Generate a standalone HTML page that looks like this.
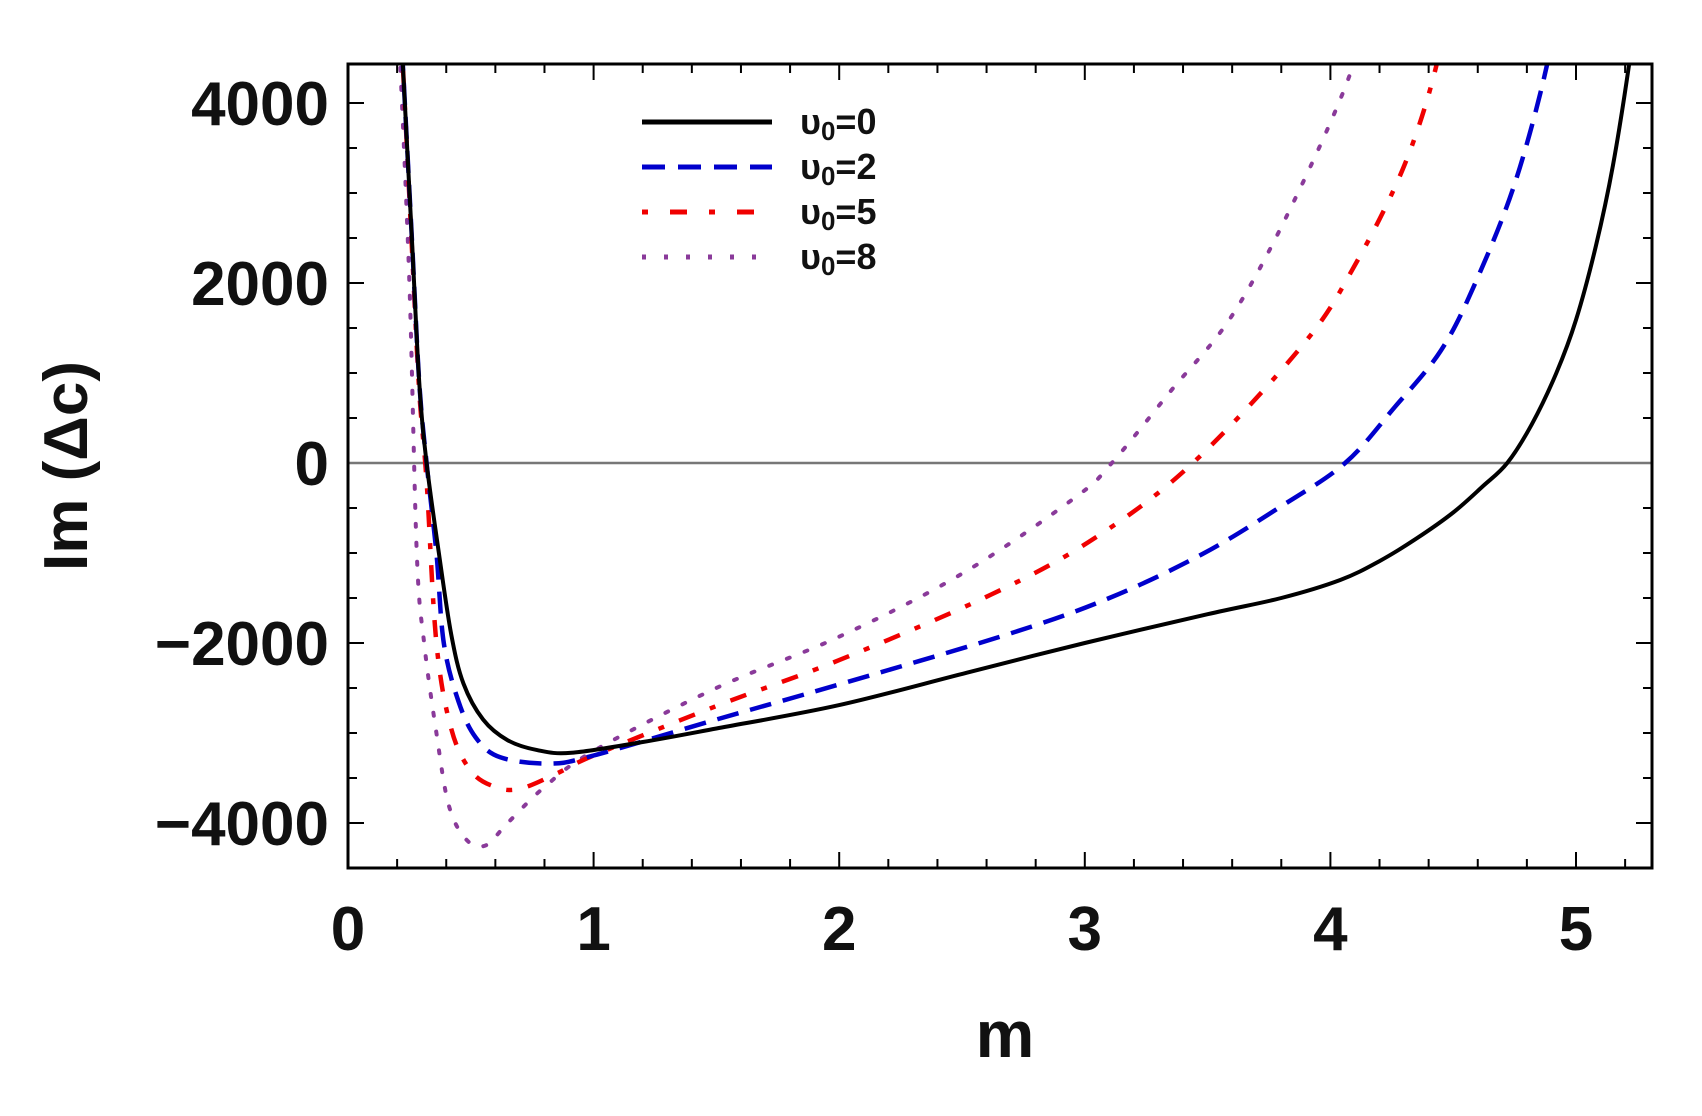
<!DOCTYPE html>
<html><head><meta charset="utf-8"><style>
html,body{margin:0;padding:0;background:#fff;}
svg{display:block;}
text{font-family:"Liberation Sans",sans-serif;font-weight:bold;}
</style></head><body>
<svg id="s" width="1702" height="1116" viewBox="0 0 1702 1116" xmlns="http://www.w3.org/2000/svg">
<defs><clipPath id="c"><rect x="348" y="64" width="1304" height="804"/></clipPath></defs>
<g id="ticks" stroke="#000" stroke-width="2"></g>
<line x1="348" y1="463" x2="1652" y2="463" stroke="#777" stroke-width="2.5"/>
<g id="curves" clip-path="url(#c)" fill="none"></g>
<rect x="348" y="64" width="1304" height="804" fill="none" stroke="#000" stroke-width="3"/>
<g id="labels" font-size="62" fill="#111"></g>
<text x="1005" y="1057" font-size="66" text-anchor="middle" fill="#111">m</text>
<text transform="translate(87,466) rotate(-90)" font-size="62" text-anchor="middle" fill="#111">Im (Δc)</text>
<g font-size="36" fill="#111">
<line x1="642" y1="122" x2="772" y2="122" stroke="#000" stroke-width="5"/>
<line x1="642" y1="167" x2="772" y2="167" stroke="#0000cc" stroke-width="5" stroke-dasharray="23,13"/>
<line x1="642" y1="212" x2="772" y2="212" stroke="#f00000" stroke-width="5" stroke-dasharray="6,22,17,22"/>
<line x1="642" y1="257" x2="772" y2="257" stroke="#8a3a9a" stroke-width="5" stroke-dasharray="4,18"/>
<text x="800" y="134">υ<tspan font-size="26" dy="6">0</tspan><tspan dy="-6">=0</tspan></text>
<text x="800" y="179">υ<tspan font-size="26" dy="6">0</tspan><tspan dy="-6">=2</tspan></text>
<text x="800" y="224">υ<tspan font-size="26" dy="6">0</tspan><tspan dy="-6">=5</tspan></text>
<text x="800" y="269">υ<tspan font-size="26" dy="6">0</tspan><tspan dy="-6">=8</tspan></text>
</g>
</svg>
<script>
const X=m=>348+m*245.6, Y=v=>463-v*0.09;
const ns="http://www.w3.org/2000/svg";
function el(p,t,a,txt){const e=document.createElementNS(ns,t);for(const k in a)e.setAttribute(k,a[k]);if(txt!=null)e.textContent=txt;p.appendChild(e);return e;}
const T=document.getElementById('ticks'),L=document.getElementById('labels'),C=document.getElementById('curves');
for(let i=0;i<=26;i++){const m=i*0.2,x=X(m);if(x>1652)break;const big=i%5==0;
 el(T,'line',{x1:x,y1:868,x2:x,y2:868-(big?16:9)});el(T,'line',{x1:x,y1:64,x2:x,y2:64+(big?16:9)});
 if(big)el(L,'text',{x:x,y:950,'text-anchor':'middle'},String(i/5));}
for(let v=-4500;v<=4500;v+=500){const y=Y(v);if(y<64||y>868)continue;const big=v%2000==0;
 el(T,'line',{x1:348,y1:y,x2:348+(big?16:9),y2:y});el(T,'line',{x1:1652,y1:y,x2:1652-(big?16:9),y2:y});
 if(big)el(L,'text',{x:329,y:y+22,'text-anchor':'end'},v<0?'\u2212'+(-v):String(v));}
const S={
k:[[0.22,4600],[0.26,2500],[0.29,900],[0.32,0],[0.37,-1000],[0.42,-1900],[0.47,-2450],[0.55,-2850],[0.65,-3080],[0.77,-3190],[0.91,-3220],[1.2,-3100],[1.5,-2950],[2,-2690],[2.52,-2330],[3,-2000],[3.5,-1680],[3.8,-1500],[4.04,-1300],[4.2,-1090],[4.35,-840],[4.5,-550],[4.62,-260],[4.72,0],[4.82,430],[4.92,1000],[5.0,1590],[5.08,2400],[5.15,3300],[5.22,4500],[5.25,5200]],
b:[[0.22,4600],[0.26,2500],[0.29,900],[0.32,0],[0.36,-1000],[0.39,-2000],[0.45,-2650],[0.52,-3050],[0.62,-3270],[0.82,-3340],[1.0,-3250],[1.5,-2850],[2,-2460],[2.69,-1900],[3.1,-1500],[3.48,-1010],[3.8,-480],[4.06,0],[4.26,615],[4.45,1250],[4.59,2000],[4.75,3100],[4.88,4400],[4.92,5200]],
r:[[0.22,4600],[0.26,2400],[0.29,800],[0.32,-200],[0.36,-2000],[0.42,-2950],[0.5,-3420],[0.6,-3600],[0.7,-3620],[0.85,-3450],[1.0,-3250],[1.5,-2700],[2,-2190],[2.62,-1460],[3.04,-835],[3.44,0],[3.89,1320],[4.1,2200],[4.3,3300],[4.43,4400],[4.47,5200]],
p:[[0.21,4600],[0.25,2000],[0.28,-1000],[0.31,-2000],[0.36,-3000],[0.41,-3800],[0.48,-4180],[0.56,-4250],[0.65,-4000],[0.8,-3600],[1,-3200],[1.5,-2500],[2,-1930],[2.5,-1230],[2.96,-385],[3.11,0],[3.35,800],[3.6,1640],[3.85,2900],[4.09,4400],[4.13,5200]]};
function path(pts){const P=pts.map(p=>[X(p[0]),Y(p[1])]);let d='M'+P[0];
 for(let i=0;i<P.length-1;i++){const p0=P[i-1]||P[i],p1=P[i],p2=P[i+1],p3=P[i+2]||p2;
 d+=' C'+[p1[0]+(p2[0]-p0[0])/6,p1[1]+(p2[1]-p0[1])/6]+' '+[p2[0]-(p3[0]-p1[0])/6,p2[1]-(p3[1]-p1[1])/6]+' '+p2;}return d;}
el(C,'path',{d:path(S.p),stroke:'#8a3a9a','stroke-width':4,'stroke-dasharray':'3,16','stroke-linecap':'round'});
el(C,'path',{d:path(S.r),stroke:'#f00000','stroke-width':4.5,'stroke-dasharray':'6,16,17,16'});
el(C,'path',{d:path(S.b),stroke:'#0000cc','stroke-width':4.5,'stroke-dasharray':'22,12'});
el(C,'path',{d:path(S.k),stroke:'#000','stroke-width':4});
</script>
</body></html>
